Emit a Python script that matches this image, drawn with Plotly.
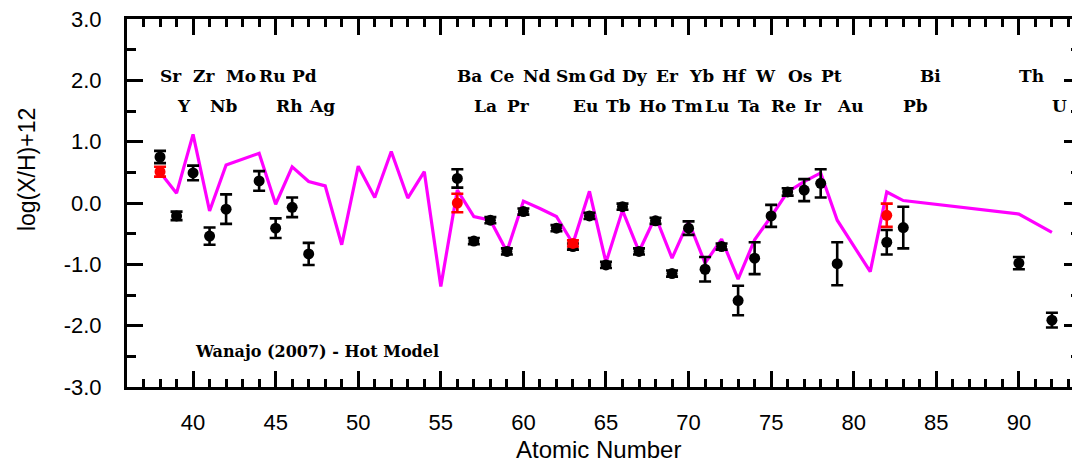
import plotly.graph_objects as go

# Observed abundances (black)
obs_z = [38, 39, 40, 41, 42, 44, 45, 46, 47, 56, 57, 58, 59, 60, 62, 63, 64, 65, 66, 67, 68, 69,
         70, 71, 72, 73, 74, 75, 76, 77, 78, 79, 82, 83, 90, 92]
obs_val = [0.75, -0.21, 0.49, -0.54, -0.10, 0.36, -0.41, -0.07, -0.83, 0.40, -0.62, -0.28, -0.79,
           -0.14, -0.41, -0.71, -0.21, -1.01, -0.06, -0.79, -0.29, -1.15,
           -0.41, -1.08, -0.71, -1.59, -0.90, -0.21, 0.18, 0.21, 0.32, -0.99, -0.64, -0.40, -0.98, -1.91]
obs_err = [0.10, 0.07, 0.12, 0.14, 0.24, 0.16, 0.16, 0.16, 0.18, 0.15, 0.05, 0.05, 0.05,
           0.05, 0.05, 0.05, 0.05, 0.05, 0.05, 0.05, 0.05, 0.05,
           0.11, 0.20, 0.05, 0.24, 0.26, 0.18, 0.06, 0.18, 0.23, 0.35, 0.20, 0.34, 0.10, 0.12]

# Second set of abundances (red)
red_z = [38, 56, 63, 82]
red_val = [0.51, 0.00, -0.66, -0.20]
red_err = [0.08, 0.15, 0.05, 0.19]

# Wanajo (2007) hot model (magenta)
model_z = [38, 39, 40, 41, 42, 43, 44, 45, 46, 47, 48, 49, 50, 51, 52, 53, 54, 55, 56, 57, 58, 59,
           60, 61, 62, 63, 64, 65, 66, 67, 68, 69, 70, 71, 72, 73, 74, 75, 76, 77, 78, 79, 80, 81,
           82, 83, 90, 92]
model_val = [0.50, 0.16, 1.12, -0.13, 0.62, 0.71, 0.81, -0.02, 0.59, 0.35, 0.28, -0.68, 0.60, 0.09,
             0.84, 0.08, 0.51, -1.36, 0.21, -0.22, -0.28, -0.79, 0.03, -0.09, -0.22, -0.66, 0.19,
             -0.97, -0.12, -0.79, -0.22, -0.90, -0.30, -0.98, -0.59, -1.24, -0.60, -0.22, 0.18,
             0.35, 0.49, -0.28, -0.70, -1.12, 0.18, 0.04, -0.18, -0.48]

# Element labels
row1_names = ["Sr", "Zr", "Mo", "Ru", "Pd", "Ba", "Ce", "Nd", "Sm", "Gd", "Dy", "Er", "Yb", "Hf",
              "W", "Os", "Pt", "Bi", "Th"]
row1_z = [38, 40, 42, 44, 46, 56, 58, 60, 62, 64, 66, 68, 70, 72, 74, 76, 78, 83, 90]
row2_names = ["Y", "Nb", "Rh", "Ag", "La", "Pr", "Eu", "Tb", "Ho", "Tm", "Lu", "Ta", "Re", "Ir",
              "Au", "Pb", "U"]
row2_z = [39, 41, 45, 47, 57, 59, 63, 65, 67, 69, 71, 73, 75, 77, 79, 82, 92]
label_shift = {"Pb": 1.0, "Bi": 1.0}

x_tickvals = [40, 45, 50, 55, 60, 65, 70, 75, 80, 85, 90]
x_ticktext = ["40", "45", "50", "55", "60", "65", "70", "75", "80", "85", "90"]
y_tickvals = [3, 2, 1, 0, -1, -2, -3]
y_ticktext = ["3.0", "2.0", "1.0", "0.0", "-1.0", "-2.0", "-3.0"]

fig = go.Figure()

fig.add_trace(go.Scatter(
    x=model_z, y=model_val, mode="lines",
    line=dict(color="#FF00FF", width=3.2), showlegend=False, hoverinfo="skip"))

fig.add_trace(go.Scatter(
    x=obs_z, y=obs_val, mode="markers",
    marker=dict(color="black", size=11),
    error_y=dict(type="data", array=obs_err, color="black", thickness=2.6, width=6),
    showlegend=False))

fig.add_trace(go.Scatter(
    x=red_z, y=red_val, mode="markers",
    marker=dict(color="#FF0000", size=11),
    error_y=dict(type="data", array=red_err, color="#FF0000", thickness=2.6, width=6),
    showlegend=False))

label_font = dict(family="DejaVu Serif", size=17, color="black", weight="bold")
for names, zs, yv in [(row1_names, row1_z, 2.07), (row2_names, row2_z, 1.58)]:
    for n, z in zip(names, zs):
        fig.add_annotation(x=z + label_shift.get(n, 0.0), y=yv, text=n, showarrow=False,
                           xanchor="left", yanchor="middle", font=label_font, xref="x", yref="y",
                           xshift=-2)

fig.add_annotation(x=40.1, y=-2.42, text="Wanajo (2007) - Hot Model", showarrow=False,
                   xanchor="left", yanchor="middle", xref="x", yref="y", xshift=-2,
                   font=dict(family="DejaVu Serif", size=16, color="black", weight="bold"))

fig.add_annotation(x=-0.105, y=0.592, xref="paper", yref="paper", text="log(X/H)+12",
                   showarrow=False, textangle=-90, xanchor="center", yanchor="middle",
                   font=dict(family="Liberation Sans", size=23, color="black"))

fig.add_annotation(x=0.495, y=-0.171, xref="paper", yref="paper", text="Atomic Number",
                   showarrow=False, xanchor="center", yanchor="middle",
                   font=dict(family="Liberation Sans", size=24, color="black"))

axis_common = dict(showgrid=False, zeroline=False, showline=True, linecolor="black",
                   linewidth=3, mirror="ticks", ticks="inside", tickcolor="black",
                   tickwidth=2.5, automargin=False, ticklabeloverflow="allow",
                   tickfont=dict(family="Liberation Sans", size=22, color="black"))

fig.update_xaxes(range=[36.0, 93.7], tickvals=x_tickvals, ticktext=x_ticktext, ticklen=16,
                 minor=dict(dtick=1, ticks="inside", ticklen=8, tickcolor="black", tickwidth=2.5),
                 ticklabelstandoff=14, **axis_common)
fig.update_yaxes(range=[-3, 3], tickvals=y_tickvals, ticktext=y_ticktext, ticklen=16,
                 minor=dict(dtick=0.5, tick0=0, ticks="inside", ticklen=9, tickcolor="black", tickwidth=2.5),
                 ticklabelstandoff=18, **axis_common)

# The page body adds an 8px offset, so the figure is 8px smaller on each leading edge.
fig.update_layout(width=1072, height=460, margin=dict(l=119, r=0, t=11, b=81, autoexpand=False),
                  paper_bgcolor="white", plot_bgcolor="white", showlegend=False)

fig.write_html("out.html")
